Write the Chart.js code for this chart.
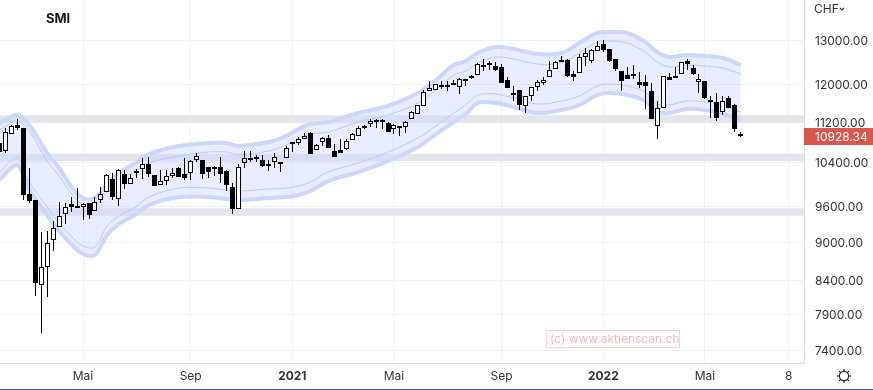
<!DOCTYPE html>
<html>
<head>
<meta charset="utf-8">
<script src="https://cdn.jsdelivr.net/npm/chart.js@4"></script>
<style>
    html, body { margin: 0; padding: 0; background: #fff; }
    canvas { display: block; }
</style>
</head>
<body>
<canvas id="smiChart" width="873" height="390"></canvas>
<script>
const opens = [
    10775,10631,10952,11139,11078,9820,9719,8332,8600,9037,
    9249,9480,9644,9609,9602,9666,9522,9724,9856,10098,
    9742,10190,10001,10245,10277,10377,10171,9993,10055,10159,
    10296,10190,10203,10458,10452,10320,10320,10320,10245,9946,
    9567,10390,10484,10510,10452,10377,10409,10420,10484,10806,
    10786,10853,10978,10650,10794,10873,10625,10644,10669,10833,
    10912,11113,11153,11194,11240,11185,11052,11125,11099,11254,
    11370,11525,11850,11865,11973,11980,11973,11947,12110,12170,
    12192,12423,12468,12400,12371,12081,11807,11865,11525,11736,
    11930,12029,12148,12326,12484,12536,12221,12250,12598,12520,
    12743,12913,12789,12559,12281,12199,12170,12045,12045,11850,
    11125,11495,12154,12183,12228,12513,12348,12038,12066,11657,
    11615,11412,11693,11546,10965
];
const highs = [
    10879,11072,11139,11254,11078,10296,9719,9165,9181,9355,
    9684,9666,9767,9933,9661,9666,9778,9957,10185,10203,
    10277,10264,10190,10283,10490,10519,10171,10264,10264,10296,
    10326,10484,10452,10592,10452,10320,10339,10504,10264,10019,
    10377,10619,10619,10542,10542,10452,10581,10420,10729,10806,
    10893,10984,10998,10761,10905,10932,10761,10853,10865,10972,
    11125,11139,11254,11260,11260,11200,11159,11125,11220,11426,
    11558,11871,12073,11995,12073,12060,12088,12132,12120,12206,
    12475,12552,12506,12484,12453,12148,11964,11865,11749,11943,
    12088,12161,12513,12513,12621,12550,12294,12667,12805,12789,
    12977,13000,12789,12559,12281,12384,12423,12266,12199,12016,
    11636,12170,12250,12371,12484,12566,12423,12221,12066,11749,
    11800,11749,11742,11583,11004
];
const lows = [
    10600,10592,10952,11038,9719,9661,8167,7635,8152,8859,
    9249,9304,9515,9584,9372,9384,9522,9672,9856,9719,
    9619,9915,10001,10110,10097,10135,9975,9993,9988,10110,
    10140,10079,10079,10420,10097,10122,10159,10019,9885,9475,
    9556,10307,10420,10420,10326,10251,10307,10233,10484,10611,
    10741,10853,10573,10650,10722,10689,10504,10592,10644,10833,
    10912,11052,11093,11072,11058,11004,10958,10918,10984,11254,
    11370,11525,11850,11865,11886,11856,11973,11785,11960,12110,
    12192,12294,12310,12294,12029,11921,11636,11447,11378,11642,
    11850,11980,12148,12326,12484,12161,12073,12250,12407,12461,
    12743,12713,12490,12294,11856,12117,12110,11921,11468,11260,
    10865,11495,12088,12139,12215,12310,12199,11800,11672,11281,
    11226,11343,11495,10998,10905
];
const closes = [
    10611,10992,11119,11084,9813,9707,8353,8600,8984,9232,
    9436,9591,9602,9584,9644,9463,9679,9820,10166,9778,
    10258,10012,10110,10214,10382,10190,9975,10055,10147,10203,
    10140,10122,10433,10523,10196,10233,10296,10184,9993,9567,
    10315,10484,10452,10477,10345,10352,10504,10396,10677,10775,
    10853,10913,10573,10735,10873,10689,10504,10592,10814,10952,
    11084,11084,11214,11246,11194,11004,11145,11099,11206,11412,
    11546,11822,11921,11995,11930,11951,12023,12104,12073,12132,
    12445,12394,12416,12317,12029,11921,11770,11558,11749,11943,
    12038,12081,12303,12497,12529,12183,12154,12598,12690,12759,
    12853,12773,12506,12340,12073,12117,12215,11987,11958,11260,
    11483,12170,12088,12139,12484,12453,12221,12104,11700,11621,
    11290,11630,11495,11064,10928.34
];

// band curves, read at these candle numbers
const bandWeeks = [0,3,5,8,10,12,14,16,18,20,23,25,30,35,38,40,45,48,50,52,55,60,65,70,73,76,78,80,83,86,90,94,97,100,102,105,108,110,112,115,118,121,124];
const bandOuterUpper = [11179,11344,11139,10586,10302,9970,9755,9755,10006,10208,10414,10567,10722,10780,10780,10722,10800,10919,11058,11159,11200,11385,11531,11807,12088,12423,12513,12697,12836,12789,12674,12697,12930,13168,13192,13168,12953,12720,12605,12651,12628,12582,12423];
const bandOuterLower = [10079,10358,9897,9458,9186,8972,8811,8795,9120,9304,9475,9631,9772,9772,9737,9719,9755,9772,9808,9879,10061,10227,10433,10702,10958,11200,11364,11594,11594,11510,11385,11447,11552,11764,11807,11764,11636,11405,11385,11468,11447,11364,11240];
const bandInnerUpper = [11038,11220,11018,10433,10153,9843,9631,9614,9861,10061,10264,10396,10529,10606,10606,10548,10625,10741,10859,10958,10998,11200,11343,11594,11871,12199,12288,12468,12605,12559,12445,12468,12697,12953,12977,12930,12720,12491,12378,12423,12400,12355,12221];
const bandInnerLower = [10227,10490,10043,9596,9321,9103,8940,8924,9270,9441,9614,9772,9933,9933,9897,9879,9915,9933,9970,10043,10227,10396,10606,10879,11119,11385,11552,11764,11785,11700,11572,11636,11742,11958,12001,11958,11828,11572,11552,11636,11615,11552,11405];

const zoneLevels = [11260, 10500, 9510];
const yTicks = [13000, 12000, 11200, 10400, 9600, 9000, 8400, 7900, 7400];
const xTickWeeks = [14, 32, 49, 66, 84, 101, 118, 132];
const xTickLabels = ['Mai', 'Sep', '2021', 'Mai', 'Sep', '2022', 'Mai', '8'];
const lastPrice = 10928.34;
const xMin = 0.117;
const xMax = 134.56;

const FONT = 'Inter, "Liberation Sans", sans-serif';

const candleWeeks = closes.map((_, i) => i);
const bandPoints = (values) => values.map((v, i) => ({ x: bandWeeks[i], y: v }));
const lineStyle = { type: 'line', pointRadius: 0, tension: 0.35, fill: false };

const zoneSets = zoneLevels.map((level) => ({
    ...lineStyle,
    data: [{ x: xMin, y: level }, { x: xMax, y: level }],
    borderColor: '#e4e5ea',
    borderWidth: 7.5,
    tension: 0,
    order: 20
}));

// candles sit on whole pixels, like the original widget
const snapBars = {
    id: 'snapBars',
    afterDatasetsUpdate(chart) {
        chart.getSortedVisibleDatasetMetas().forEach((meta) => {
            if (meta.type !== 'bar') return;
            meta.data.forEach((bar) => {
                bar.x = Math.floor(bar.x) + 0.5;
                bar.y = Math.round(bar.y);
                bar.base = Math.round(bar.base);
                if (bar.width > 2 && Math.abs(bar.base - bar.y) < 2) bar.base = bar.y + 2;
            });
        });
    }
};

const overlay = {
    id: 'overlay',
    afterDraw(chart) {
        const c = chart.ctx;
        const tagY = chart.scales.y.getPixelForValue(lastPrice) + 1;
        c.save();

        c.fillStyle = '#d9574a';
        c.fillRect(804, tagY - 8.5, 69, 17);
        c.fillStyle = '#fff';
        c.font = '12px ' + FONT;
        c.textBaseline = 'middle';
        c.fillText(lastPrice.toFixed(2), 815, tagY + 0.5);

        c.fillStyle = '#131722';
        c.font = 'bold 13px ' + FONT;
        c.fillText('SMI', 46, 19);

        c.fillStyle = '#333';
        c.font = '12px ' + FONT;
        c.fillText('CHF', 814, 9.5);
        c.strokeStyle = '#333';
        c.lineWidth = 1.2;
        c.beginPath();
        c.moveTo(840, 8);
        c.lineTo(842, 10);
        c.lineTo(844, 8);
        c.stroke();

        // watermark
        c.strokeStyle = '#ffd0d3';
        c.lineWidth = 1;
        c.strokeRect(546.5, 330.5, 133, 17);
        c.fillStyle = '#ffb9bd';
        c.fillText('(c) www.aktienscan.ch', 550, 339.5);

        // settings icon
        c.strokeStyle = '#222';
        c.lineWidth = 1.2;
        c.beginPath();
        c.arc(844, 376, 4.6, 0, Math.PI * 2);
        c.stroke();
        for (let a = 0; a < 8; a++) {
            const t = a * Math.PI / 4;
            c.beginPath();
            c.moveTo(844 + Math.cos(t) * 4.6, 376 + Math.sin(t) * 4.6);
            c.lineTo(844 + Math.cos(t) * 7, 376 + Math.sin(t) * 7);
            c.stroke();
        }

        // bottom rule of the widget
        c.fillStyle = '#2f5fd3';
        c.fillRect(0, 389, 873, 1);
        c.restore();
    }
};

new Chart(document.getElementById('smiChart').getContext('2d'), {
    type: 'bar',
    data: {
        datasets: [
            ...zoneSets,
            { ...lineStyle, data: bandPoints(bandOuterUpper), borderColor: '#cbd8fb', borderWidth: 4, fill: '+1', backgroundColor: 'rgba(199,213,255,0.42)', order: 10 },
            { ...lineStyle, data: bandPoints(bandOuterLower), borderColor: '#cbd8fb', borderWidth: 4, order: 9 },
            { ...lineStyle, data: bandPoints(bandInnerUpper), borderColor: '#b9caf8', borderWidth: 1, order: 8 },
            { ...lineStyle, data: bandPoints(bandInnerLower), borderColor: '#b9caf8', borderWidth: 1, order: 7 },
            {
                data: candleWeeks.map((i) => ({ x: i, y: [lows[i], highs[i]] })),
                backgroundColor: '#000',
                barThickness: 1,
                inflateAmount: 0,
                order: 2
            },
            {
                data: candleWeeks.map((i) => ({ x: i, y: [opens[i], closes[i]] })),
                backgroundColor: candleWeeks.map((i) => (closes[i] < opens[i] ? '#000' : '#fff')),
                borderColor: '#000',
                borderWidth: 1,
                borderSkipped: false,
                barThickness: 5,
                inflateAmount: 0,
                order: 1
            }
        ]
    },
    options: {
        responsive: false,
        animation: false,
        layout: { padding: 0 },
        datasets: { bar: { grouped: false } },
        plugins: { legend: { display: false }, tooltip: { enabled: false } },
        scales: {
            x: {
                type: 'linear',
                min: xMin,
                max: xMax,
                offset: false,
                bounds: 'data',
                afterFit(scale) {
                    scale.height = 27;
                    scale.paddingLeft = 0;
                    scale.paddingRight = 0;
                },
                afterBuildTicks(scale) { scale.ticks = xTickWeeks.map((v) => ({ value: v })); },
                grid: { offset: false, color: '#f0f1f3', drawTicks: false },
                border: { color: '#d9dadd' },
                ticks: {
                    autoSkip: false,
                    maxRotation: 0,
                    padding: 6,
                    color: '#333',
                    font: (ctx) => {
                        const label = xTickLabels[ctx.index];
                        return { family: FONT, size: 12, weight: label && label.startsWith('20') ? 'bold' : 'normal' };
                    },
                    callback: (value, index) => xTickLabels[index]
                }
            },
            y: {
                type: 'logarithmic',
                position: 'right',
                min: 7228,
                max: 13981,
                bounds: 'data',
                afterFit(scale) {
                    scale.width = 69;
                    scale.paddingTop = 0;
                    scale.paddingBottom = 0;
                },
                afterBuildTicks(scale) { scale.ticks = yTicks.map((v) => ({ value: v })); },
                grid: { color: '#f0f1f3', drawTicks: false },
                border: { color: '#d9dadd' },
                ticks: {
                    autoSkip: false,
                    padding: 11,
                    labelOffset: 1,
                    color: '#333',
                    font: { family: FONT, size: 12 },
                    callback: (value) => value.toFixed(2)
                }
            }
        }
    },
    plugins: [snapBars, overlay]
});
</script>
</body>
</html>
